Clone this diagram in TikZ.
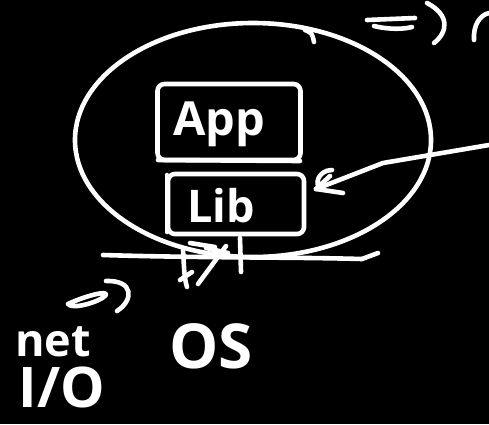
\documentclass[tikz,border=0pt]{standalone}
\usepackage{fontspec}
\setmainfont{Open Sans}
\begin{document}
\begin{tikzpicture}[x=1pt,y=-1pt,
  ink/.style={draw=white,line width=4.6pt,line cap=round,line join=round},
  boxstyle/.style={ink,rounded corners=7pt,minimum width=#1,inner sep=0pt},
  hand/.style={text=white,font=\fontsize{#1}{#1}\selectfont\bfseries,inner sep=0pt}]
\fill[black] (0,0) rectangle (489,424);
\useasboundingbox (0,0) rectangle (489,424);
% big ellipse
\draw[ink] (253,140) ellipse [x radius=178, y radius=117];
\draw[ink] (305,30) .. controls (312,33) .. (314,42);
% boxes
\node[boxstyle=143pt,minimum height=76pt] (app) at (229,122) {};
\node[boxstyle=136pt,minimum height=60pt] (lib) at (236,204) {};
\draw[ink] (158,160) -- (300,161);
\draw[ink] (167,175) -- (167,232);
\node[hand=47] (apptext) at (219,124) {App};
\node[hand=45] (libtext) at (221,206) {Lib};
% horizontal line
\coordinate (h1) at (103,255);
\coordinate (h2) at (362,259);
\draw[ink] (h1) .. controls (200,258) and (290,257) .. (h2);
\draw[ink] (h2) -- (378,253);
% scribble below lib
\draw[ink] (183,250) .. controls (184,265) and (184,278) .. (187,287);
\draw[ink] (180,280) -- (192,272);
\draw[ink] (198,284) -- (226,246);
\draw[ink] (206,248) -- (228,253);
\draw[ink] (240,238) -- (241,272);
\draw[ink] (190,243) -- (215,247);
% incoming arrow
\coordinate (ain) at (489,145);
\coordinate (amid) at (383,163);
\coordinate (atip) at (316,189);
\draw[ink] (ain) -- (amid) -- (atip);
\draw[ink] (atip) -- (343,193);
\draw[ink] (atip) -- (330,176);
\draw[ink] (332,170) .. controls (318,170) and (313,186) .. (322,189);
% =) top right
\draw[ink] (367,20) -- (415,18);
\draw[ink] (374,26) .. controls (390,30) and (405,29) .. (412,27);
\draw[ink] (427,3) .. controls (450,15) and (448,32) .. (434,43);
\draw[ink] (474,40) .. controls (473,25) and (480,15) .. (489,13);
% =) lower left
\draw[ink] (68,304) .. controls (85,296) and (108,290) .. (106,295) .. controls (100,302) and (72,310) .. (68,304);
\draw[ink] (106,281) .. controls (134,280) and (134,300) .. (117,311);
% texts
\node[hand=45] (net) at (53,342) {net};
\node[hand=56] (io) at (62,387) {I/O};
\node[hand=62] (os) at (211,346) {OS};
\end{tikzpicture}
\end{document}
